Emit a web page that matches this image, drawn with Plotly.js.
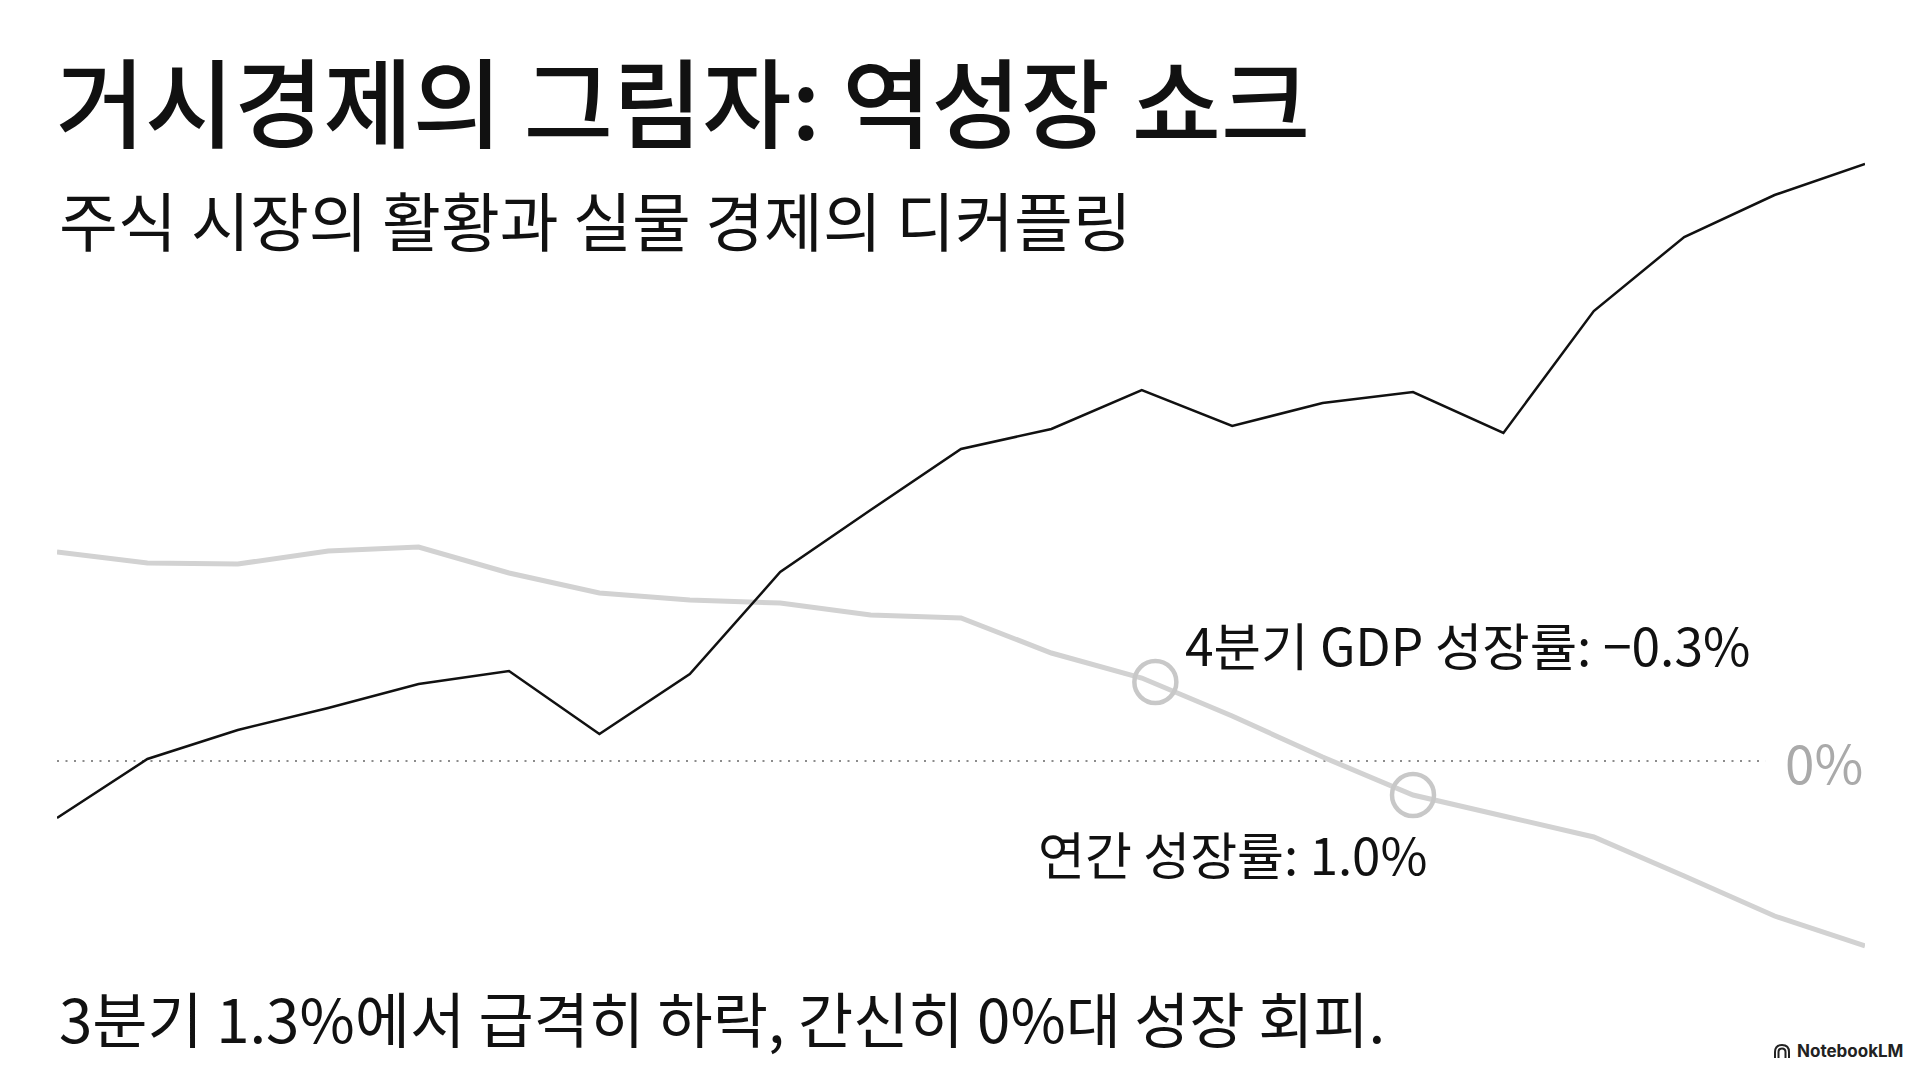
<!DOCTYPE html>
<html>
<head>
<meta charset="utf-8">
<script src="https://cdn.plot.ly/plotly-3.0.1.min.js"></script>
<style>
  html, body { margin: 0; padding: 0; background: #ffffff; }
  #chart { width: 1920px; height: 1072px; }
</style>
</head>
<body>
<div id="chart"></div>
<script>
// ---- data ----
const periods = [0, 1, 2, 3, 4, 5, 6, 7, 8, 9, 10, 11, 12, 13, 14, 15, 16, 17, 18, 19, 20];

// stock market (black line), same relative scale as chart
const stockMarket = [-0.57, 0.02, 0.31, 0.53, 0.77, 0.90, 0.27, 0.87, 1.89, 2.51, 3.12,
                     3.32, 3.71, 3.35, 3.58, 3.69, 3.28, 4.50, 5.24, 5.66, 5.97];

// real economy growth (grey line)
const realEconomy = [2.09, 1.98, 1.97, 2.10, 2.14, 1.88, 1.68, 1.61, 1.58, 1.46, 1.43,
                     1.08, 0.83, 0.45, 0.04, -0.34, -0.55, -0.76, -1.15, -1.55, -1.85];

// highlighted points on the grey line
const highlightX = [12.15, 15];
const highlightY = [0.79, -0.34];
const highlightLabels = ['4분기 GDP 성장률: −0.3%', '연간 성장률: 1.0%'];

const titleText = '거시경제의 그림자: 역성장 쇼크';
const subtitleText = '주식 시장의 활황과 실물 경제의 디커플링';
const footnoteText = '3분기 1.3%에서 급격히 하락, 간신히 0%대 성장 회피.';
const zeroLabel = '0%';
const brandText = 'NotebookLM';

const FONT = '"Noto Sans CJK KR", "Noto Sans", sans-serif';

const traces = [
  {
    x: periods, y: realEconomy, type: 'scatter', mode: 'lines',
    line: { color: '#d2d2d2', width: 5 }, hoverinfo: 'skip'
  },
  {
    x: periods, y: stockMarket, type: 'scatter', mode: 'lines',
    line: { color: '#111111', width: 2.5 }, hoverinfo: 'skip'
  },
  {
    x: highlightX, y: highlightY, type: 'scatter', mode: 'markers',
    marker: { symbol: 'circle-open', size: 42, color: '#c8c8c8', line: { width: 4.5, color: '#c8c8c8' } },
    hoverinfo: 'skip'
  }
];

// small brand icon (nested arches), positioned in paper units
const px = 1 / 1808, py = 1 / 900;
const ix = (1774 - 57) * px, iy = (1000 - 1058) * py;
function arch(r) {
  return 'M ' + (ix + (8 - r) * px) + ' ' + iy +
         ' L ' + (ix + (8 - r) * px) + ' ' + (iy + 6 * py) +
         ' Q ' + (ix + (8 - r) * px) + ' ' + (iy + (6 + r) * py) + ' ' + (ix + 8 * px) + ' ' + (iy + (6 + r) * py) +
         ' Q ' + (ix + (8 + r) * px) + ' ' + (iy + (6 + r) * py) + ' ' + (ix + (8 + r) * px) + ' ' + (iy + 6 * py) +
         ' L ' + (ix + (8 + r) * px) + ' ' + iy;
}

const layout = {
  width: 1920, height: 1072,
  paper_bgcolor: '#ffffff', plot_bgcolor: 'rgba(0,0,0,0)',
  showlegend: false,
  margin: { l: 57, r: 55, t: 100, b: 72 },
  font: { family: FONT, color: '#111111' },
  title: {
    text: titleText,
    font: { family: FONT, size: 97, color: '#111111', weight: 500 },
    xref: 'container', yref: 'container',
    x: 0.029, xanchor: 'left',
    y: 1 - 106 / 1072, yanchor: 'middle'
  },
  xaxis: {
    range: [0, 20], showgrid: false, zeroline: false, showline: false,
    showticklabels: false, ticks: '', fixedrange: true
  },
  yaxis: {
    range: [-2.39, 6.61], showgrid: false, zeroline: false, showline: false,
    showticklabels: false, ticks: '', fixedrange: true
  },
  shapes: [
    {
      type: 'line', xref: 'x', yref: 'y', x0: 0, x1: 18.9, y0: 0, y1: 0,
      line: { color: '#8c8c8c', width: 2, dash: '2px,6.5px' }, layer: 'below'
    },
    { type: 'path', xref: 'paper', yref: 'paper', path: arch(7), line: { color: '#222222', width: 2 } },
    { type: 'path', xref: 'paper', yref: 'paper', path: arch(3.5), line: { color: '#222222', width: 2 } }
  ],
  annotations: [
    {
      text: subtitleText, xref: 'paper', yref: 'paper', x: 0.0, y: 0.869,
      xanchor: 'left', yanchor: 'middle', showarrow: false,
      font: { family: FONT, size: 64, color: '#111111' }
    },
    {
      text: footnoteText, xref: 'paper', yref: 'paper', x: 0.0, y: -0.018,
      xanchor: 'left', yanchor: 'middle', showarrow: false,
      font: { family: FONT, size: 60, color: '#111111' }
    },
    {
      text: highlightLabels[0], xref: 'x', yref: 'y', x: 12.46, y: 1.18,
      xanchor: 'left', yanchor: 'middle', showarrow: false,
      font: { family: FONT, size: 51.5, color: '#111111' }
    },
    {
      text: highlightLabels[1], xref: 'x', yref: 'y', x: 10.83, y: -0.92,
      xanchor: 'left', yanchor: 'middle', showarrow: false,
      font: { family: FONT, size: 51, color: '#111111' }
    },
    {
      text: zeroLabel, xref: 'x', yref: 'y', x: 20, y: 0,
      xanchor: 'right', yanchor: 'middle', showarrow: false,
      font: { family: FONT, size: 53, color: '#aaaaaa' }
    },
    {
      text: '<b>' + brandText + '</b>', xref: 'paper', yref: 'paper', x: 1.022, y: -0.057,
      xanchor: 'right', yanchor: 'middle', showarrow: false,
      font: { family: 'Inter, "Noto Sans", sans-serif', size: 17, color: '#222222' }
    }
  ]
};

Plotly.newPlot('chart', traces, layout, { displayModeBar: false, staticPlot: true });
</script>
</body>
</html>
